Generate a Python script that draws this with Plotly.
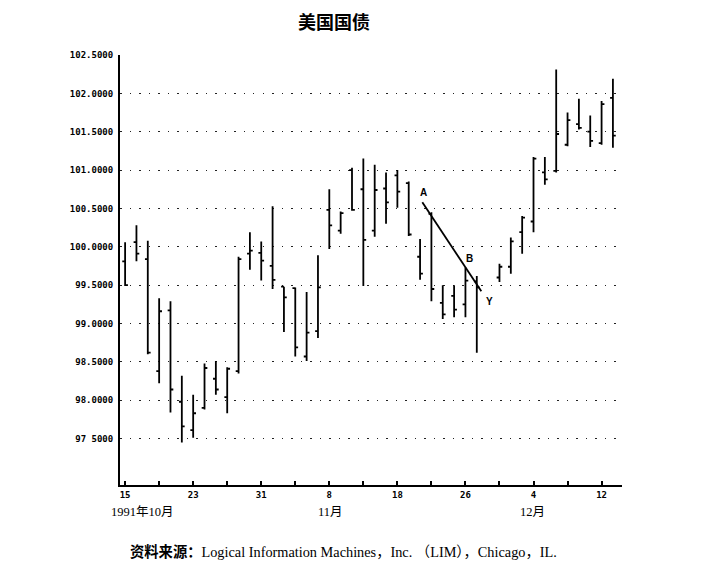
import plotly.graph_objects as go

# ---- data ----
day_index = [0, 1, 2, 3, 4, 5, 6, 7, 8, 9, 10, 11, 12, 13, 14, 15, 16, 17, 18, 19,
             20, 21, 22, 23, 24, 25, 26, 27, 28, 29, 30, 31, 33, 34, 35, 36, 37, 38,
             39, 40, 41, 42, 43]
open_p = [99.81, 100.06, 99.84, 98.38, 99.17, 97.98, 97.61, 97.90, 98.28, 98.04,
          98.38, 99.91, 99.92, 99.75, 99.48, 99.46, 98.57, 98.90, 100.48, 100.21,
          101.00, 100.75, 100.21, 100.76, 100.93, 100.83, 99.87, 100.43, 99.27, 99.36,
          99.25, 99.55, 99.60, 99.74, 100.19, 100.33, 100.97, 100.99, 101.33, 101.60,
          101.50, 101.35, 101.94]
high_p = [100.06, 100.28, 100.08, 99.33, 99.29, 98.32, 98.07, 98.48, 98.51, 98.43,
          99.87, 100.19, 100.07, 100.53, 99.48, 99.47, 99.41, 99.89, 100.75, 100.46,
          101.03, 101.15, 101.07, 100.97, 101.00, 100.85, 100.10, 100.45, 99.50, 99.50,
          99.73, 99.62, 99.78, 100.12, 100.40, 101.17, 101.17, 102.31, 101.75, 101.93,
          101.71, 101.90, 102.19]
low_p = [99.49, 99.81, 98.60, 98.22, 97.84, 97.45, 97.51, 97.88, 98.07, 97.83,
         98.35, 99.70, 99.56, 99.45, 98.89, 98.57, 98.51, 98.81, 99.97, 100.17,
         100.47, 99.49, 100.13, 100.30, 100.51, 100.14, 99.57, 99.29, 99.06, 99.08,
         99.08, 98.62, 99.54, 99.65, 99.91, 100.19, 100.81, 100.97, 101.31, 101.53,
         101.30, 101.33, 101.29]
close_p = [99.50, 99.91, 98.62, 99.16, 98.14, 97.66, 97.83, 98.42, 98.14, 98.41,
           99.84, 99.95, 99.82, 99.57, 99.34, 98.69, 98.88, 99.47, 100.28, 100.44,
           100.48, 100.09, 100.74, 100.58, 100.72, 100.16, 99.65, 99.45, 99.12, 99.18,
           99.56, 99.47, 99.74, 100.07, 100.38, 101.15, 100.88, 101.47, 101.65, 101.55,
           101.38, 101.86, 101.45]

x_tick_vals = [0, 6, 12, 18, 24, 30, 36, 42]
x_tick_labels = ["15", "23", "31", "8", "18", "26", "4", "12"]
y_tick_vals = [97.5, 98.0, 98.5, 99.0, 99.5, 100.0, 100.5, 101.0, 101.5, 102.0, 102.5]
y_tick_labels = ["97 5000", "98.0000", "98.5000", "99.0000", "99.5000", "100.0000",
                 "100.5000", "101.0000", "101.5000", "102.0000", "102.5000"]

month_pos = [1.5, 18.1, 35.9]
month_labels = ["1991年10月", "11月", "12月"]

trend_x = [26.2, 31.4]
trend_y = [100.58, 99.42]

point_labels = ["A", "B", "Y"]
point_x = [26.3, 30.4, 32.1]
point_y = [100.71, 99.85, 99.29]

title_text = "美国国债"
source_text = "<b>资料来源：</b>Logical Information Machines，Inc. （LIM），Chicago，IL."

# ---- figure ----
fig = go.Figure()
fig.add_trace(go.Ohlc(
    x=day_index, open=open_p, high=high_p, low=low_p, close=close_p,
    increasing=dict(line=dict(color="black", width=1.8)),
    decreasing=dict(line=dict(color="black", width=1.8)),
    tickwidth=0.25, showlegend=False, hoverinfo="skip",
))
fig.add_trace(go.Scatter(
    x=trend_x, y=trend_y, mode="lines",
    line=dict(color="black", width=1.8), showlegend=False, hoverinfo="skip",
))

for lab, px, py in zip(point_labels, point_x, point_y):
    fig.add_annotation(x=px, y=py, xref="x", yref="y", text=f"<b>{lab}</b>",
                       showarrow=False,
                       font=dict(family="Liberation Sans", size=10, color="black"))

for lab, px in zip(month_labels, month_pos):
    fig.add_annotation(x=px, y=0, xref="x", yref="paper", text=lab, showarrow=False,
                       yanchor="middle", yshift=-27,
                       font=dict(family="Liberation Serif, Noto Sans CJK SC", size=12.5, color="black"))

fig.add_annotation(x=0.016, y=-0.155, xref="paper", yref="paper", text=source_text,
                   showarrow=False, xanchor="left", yanchor="middle",
                   font=dict(family="Liberation Serif, Noto Sans CJK SC", size=14.3, color="black"))

W, H = 703, 564  # page body adds an 8px offset
fig.update_layout(
    width=W, height=H,
    margin=dict(l=112, r=89, t=47, b=87),
    paper_bgcolor="white", plot_bgcolor="white",
    title=dict(text=f"<b>{title_text}</b>", x=(334 - 8) / W, xanchor="center",
               y=1 - (23 - 8) / H, yanchor="middle",
               font=dict(family="Noto Sans CJK SC", size=18, color="black")),
    xaxis=dict(
        range=[-0.45, 43.8], showgrid=False, zeroline=False,
        showline=True, linecolor="black", linewidth=2,
        tickmode="array", tickvals=x_tick_vals, ticktext=x_tick_labels,
        ticks="inside", ticklen=4, tickwidth=1.5, tickcolor="black",
        tickfont=dict(family="DejaVu Sans Mono", size=9, color="black", weight="bold"),
        minor=dict(tick0=0, dtick=3, ticks="inside", ticklen=4, tickwidth=1.5, tickcolor="black"),
        rangeslider=dict(visible=False),
    ),
    yaxis=dict(
        range=[96.895, 102.5], zeroline=False,
        showline=True, linecolor="black", linewidth=2,
        tickmode="array", tickvals=y_tick_vals, ticktext=y_tick_labels,
        ticks="", ticklabelstandoff=3,
        tickfont=dict(family="DejaVu Sans Mono", size=9, color="black", weight="bold"),
        showgrid=True, gridcolor="#222", gridwidth=1.3, griddash="1.5px,8px",
    ),
)

fig.write_html("out.html")
